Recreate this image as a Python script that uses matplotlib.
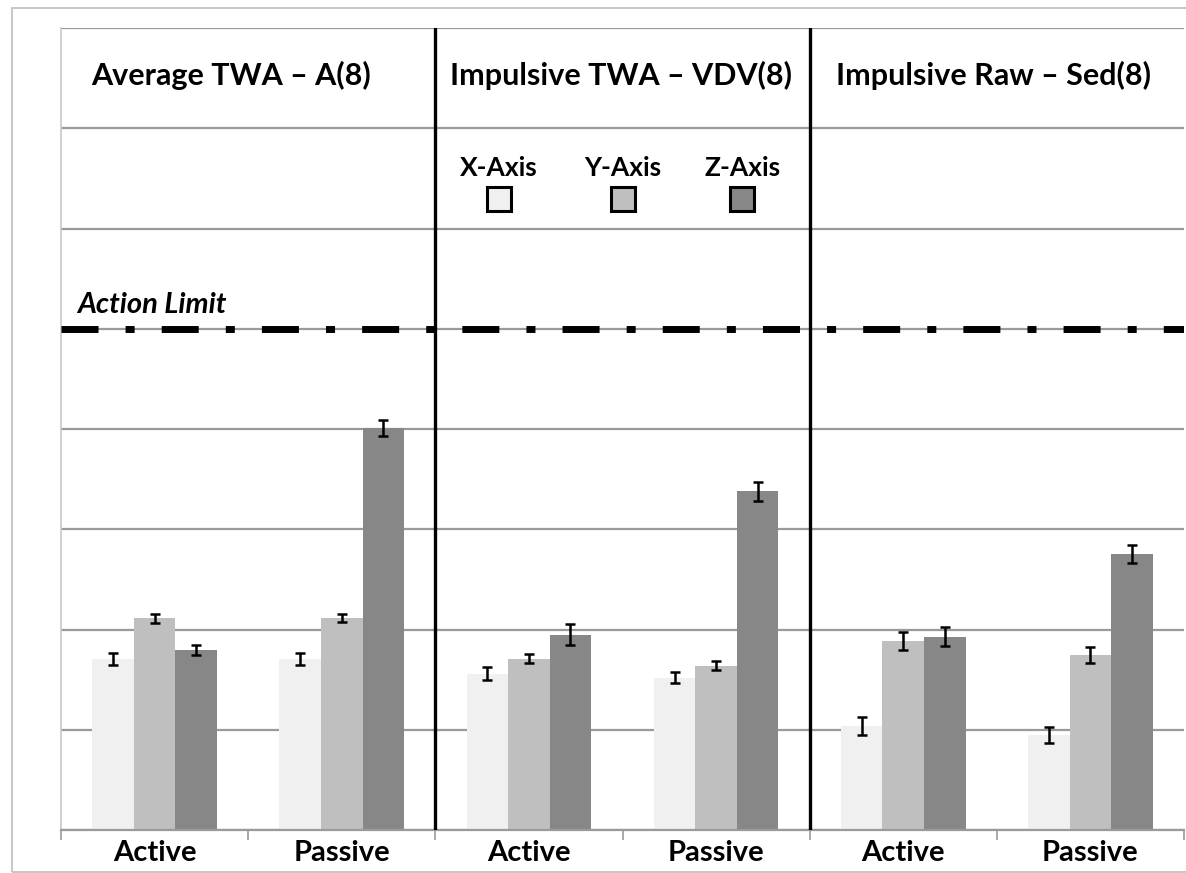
import matplotlib
matplotlib.use("Agg")
import matplotlib.pyplot as plt
from matplotlib.patches import Rectangle
import numpy as np

# ---- data ----
panels = ["Average TWA \u2013 A(8)", "Impulsive TWA \u2013 VDV(8)", "Impulsive Raw \u2013 Sed(8)"]
conditions = ["Active", "Passive"]
series = ["X-Axis", "Y-Axis", "Z-Axis"]
x_vals = [1.71, 1.71, 1.56, 1.52, 1.04, 0.95]
y_vals = [2.11, 2.11, 1.71, 1.64, 1.89, 1.75]
z_vals = [1.80, 4.01, 1.95, 3.38, 1.93, 2.75]
x_err = [0.06, 0.06, 0.065, 0.055, 0.09, 0.08]
y_err = [0.045, 0.04, 0.045, 0.045, 0.09, 0.08]
z_err = [0.05, 0.075, 0.10, 0.095, 0.095, 0.09]
action_limit = 5
colors = ["#f0f0f0", "#bfbfbf", "#878787"]

plt.rcParams['font.family'] = ['Lato', 'DejaVu Sans']

W, H = 1186, 873
fig = plt.figure(figsize=(W / 100, H / 100), dpi=100)
ax = fig.add_axes([61 / W, (H - 830) / H, 1123 / W, 802 / H])

# outer frame
fig.add_artist(Rectangle((12 / W, 1 / H), 2.0, (H - 9) / H, transform=fig.transFigure,
                         fill=False, edgecolor="#c8c8c8", lw=1.5))

n = len(x_vals)
pos = np.arange(n)
bw = 0.222
vals = [x_vals, y_vals, z_vals]
errs = [x_err, y_err, z_err]
for i, (v, e, c) in enumerate(zip(vals, errs, colors)):
    off = (i - 1) * bw
    ax.bar(pos + off, v, bw, color=c, edgecolor='none', zorder=2)
    ax.errorbar(pos + off, v, yerr=e, fmt='none', ecolor='black', elinewidth=1.8,
                capsize=3.4, capthick=1.8, zorder=3)

ax.set_xlim(-0.5, n - 0.5)
ax.set_ylim(0, 8)
ax.set_yticks(np.arange(0, 9, 1))
ax.yaxis.grid(True, color="#9a9a9a", lw=1.6, zorder=0)
ax.set_axisbelow(True)
ax.tick_params(axis='y', left=False, labelleft=False)

ax.set_xticks(pos)
ax.set_xticklabels(conditions * len(panels), fontsize=21, fontweight='bold')
ax.set_xticks(np.arange(-0.5, n, 1), minor=True)
ax.tick_params(axis='x', which='major', length=0, pad=7)
ax.tick_params(axis='x', which='minor', length=7, color="#9a9a9a", width=1.2)

for s in ['top', 'right']:
    ax.spines[s].set_visible(False)
ax.spines['left'].set_color("#c8c8c8")
ax.spines['left'].set_linewidth(1.2)
ax.spines['bottom'].set_color("#9a9a9a")
ax.spines['bottom'].set_linewidth(1.6)

# action limit
ax.axhline(action_limit, color='black', lw=5, linestyle=(0, (5.33, 3.9, 1.3, 3.9)), zorder=4)
ax.text(-0.414, action_limit + 0.16, "Action Limit", fontsize=21, fontweight='bold',
        style='italic', ha='left', va='baseline')

# panel separators and headers
for k in range(1, len(panels)):
    ax.axvline(2 * k - 0.5, color='black', lw=2.4, zorder=5)
head_off = [-0.09, -0.01, -0.02]
for k, p in enumerate(panels):
    ax.text(2 * k + 0.5 + head_off[k], 7.53, p, fontsize=22, fontweight='bold',
            ha='center', va='center')

# legend (label above square)
leg_x = [1.84, 2.50, 3.14]
for lx, lab, c in zip(leg_x, series, colors):
    ax.text(lx, 6.6, lab, fontsize=19, fontweight='bold', ha='center', va='center')
    ax.plot([lx], [6.29], marker='s', markersize=17.5, markerfacecolor=c,
            markeredgecolor='black', markeredgewidth=2.2, linestyle='none', zorder=6)

fig.savefig("out.png", dpi=100)
